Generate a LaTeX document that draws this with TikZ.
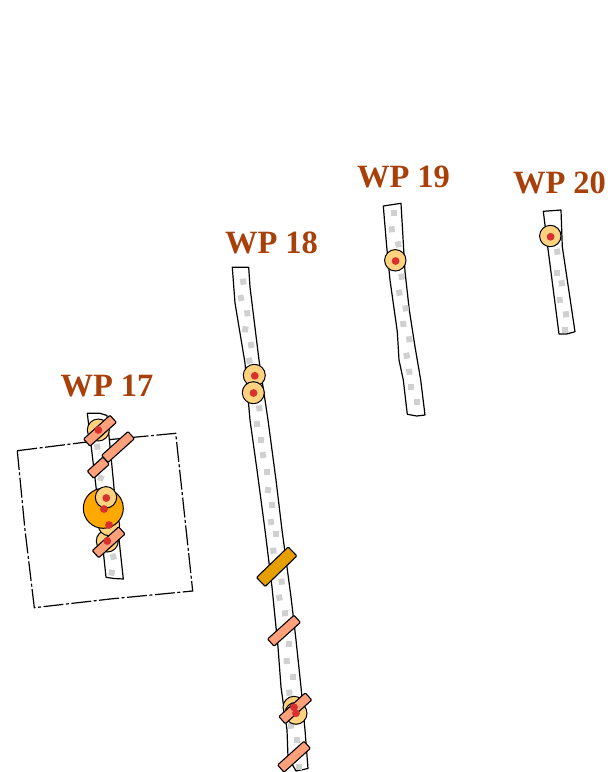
\documentclass[tikz,border=0pt]{standalone}
\usepackage{fontspec}
\setmainfont{Liberation Serif}
\definecolor{wplabel}{HTML}{A8400A}
\definecolor{findlight}{HTML}{FFD27F}
\definecolor{findbig}{HTML}{FFA800}
\definecolor{dotred}{HTML}{D7302F}
\definecolor{barsalmon}{HTML}{FFA07A}
\definecolor{bardark}{HTML}{E69F00}
\definecolor{sq}{HTML}{D0D0D0}
\tikzset{
  wp/.style={font=\bfseries\fontsize{32.5}{34}\selectfont,text=wplabel,inner sep=0pt},
  trench/.style={draw=black,line width=1.2pt,fill=white,line join=round},
  plot/.style={draw=black,line width=1.2pt,dash pattern=on 20pt off 2.5pt on 3pt off 2.5pt},
  lightc/.style={draw=black,line width=1pt,fill=findlight},
  bigc/.style={draw=black,line width=1pt,fill=findbig},
  reddot/.style={fill=dotred},
  grey/.style={fill=sq,draw=none,minimum size=6pt,inner sep=0pt,rectangle},
  salmonbar/.style={draw=black,line width=1.1pt,fill=barsalmon,rectangle,rounded corners=1pt,minimum width=35.5pt,minimum height=9.6pt,inner sep=0pt,rotate=42},
  darkbar/.style={draw=black,line width=1.1pt,fill=bardark,rectangle,rounded corners=1pt,minimum width=44pt,minimum height=12.5pt,inner sep=0pt,rotate=44}
}
\newcommand{\greys}[1]{\foreach \px/\py/\pr in {#1}{\node[grey,rotate=\pr] at (\px,\py) {};}}
\newcommand{\redd}[2]{\fill[reddot] (#1,#2) circle[radius=3.9];}
\begin{document}
\begin{tikzpicture}[x=1pt,y=-1pt]
\useasboundingbox (0,0) rectangle (611,772);
% plot outline
\draw[plot] (17.3,450.7) -- (95,441) -- (175.7,433.3) -- (184,510) -- (192.7,591) -- (110,599) -- (34.3,607.7) -- (25,530) -- cycle;
% trenches
\draw[trench] (87.3,413.3) -- (100,413.3) -- (107,415.5) -- (113,477) -- (118,530) -- (123.3,579) -- (114,578.5) -- (106,577.3) -- (100,520) -- (94,470) -- cycle;
\draw[trench] (232.3,267.3) -- (248.7,267.3) -- (250,287) -- (259,360) -- (268,420) -- (276,480) -- (282,530) -- (291,597) -- (296,640) -- (301,687) -- (305,730) -- (308,768.5) -- (296,771) -- (288,757) -- (287,730) -- (281,687) -- (278,647) -- (272,587) -- (265,530) -- (257,470) -- (250,420) -- (245,363) -- (235,303) -- cycle;
\draw[trench] (383.3,206) -- (401,203.3) -- (405,271.7) -- (409.3,310) -- (415,346.7) -- (420.7,380) -- (425,415) -- (416.7,416) -- (407.3,414.3) -- (403.3,380) -- (399,360) -- (397.3,331.7) -- (390,280) -- (386.7,246.7) -- cycle;
\draw[trench] (543.3,211.3) -- (561,210) -- (562.3,246.7) -- (575,331.7) -- (566.7,334) -- (559,334) -- (547.7,246.7) -- cycle;
% test squares
\greys{97.3/446.7/5,100.7/478/-20,113.3/556.7/15,111.7/572.7/-10}
\greys{243.3/281.7/8,241/298/15,247.3/313.3/3,245.3/329.3/-8,251/345/12,249.3/360.7/15,259.3/408.3/5,257/424/8,261/440/-5,263/455/10,267/472/5,268/490/-10,272/505/5,271/522/8,276/534.3/0,273.3/550.7/5,281.7/581.7/8,279.3/597.7/12,285/613.3/5,289/644.3/0,286.7/661/3,292.7/676.7/0,289.3/692.7/5,291/725.7/5,297.3/740/0,299/767/0}
\greys{394/213.3/0,391.7/229.3/5,398.3/244.3/12,401.7/276.7/8,399.3/292.7/10,405.7/308.3/10,403.3/324/5,409.3/339.3/8,406.7/355.7/12,409.3/371.7/5,410.7/387.3/0,417.3/402.3/0}
\greys{557.3/251.7/8,556.7/273.3/0,561.7/283.3/8,559.7/300/5,566/314.3/8,565/330/5}
% WP 17 finds
\draw[lightc] (98.3,430) circle[radius=11];
\draw[lightc] (107.3,541) circle[radius=11];
\draw[lightc] (109,525) circle[radius=10.7];
\draw[bigc] (103.3,508.3) circle[radius=20];
\draw[lightc] (106,497.3) circle[radius=10.7];
\node[salmonbar] (b1) at (100,430.7) {};
\node[salmonbar] (b2) at (118,447) {};
\node[salmonbar,minimum width=21pt] (b3) at (98.3,467.7) {};
\node[salmonbar] (b4) at (108.7,542.3) {};
\redd{98.3}{430}\redd{106.3}{498}\redd{104}{509}\redd{109}{525}\redd{107.3}{541}
% WP 18 finds
\draw[lightc] (254.3,375.3) circle[radius=11];
\draw[lightc] (253.3,392.7) circle[radius=11];
\redd{254.8}{375.8}\redd{253.5}{393}
\draw[lightc] (294,707.3) circle[radius=11];
\draw[lightc] (296,713.3) circle[radius=11];
\node[darkbar] (b5) at (276.7,566.7) {};
\node[salmonbar] (b6) at (284,630.7) {};
\node[salmonbar] (b7) at (295.3,708.3) {};
\node[salmonbar] (b8) at (294,756.7) {};
\redd{294}{707.3}\redd{296}{713.3}
% WP 19 and WP 20 finds
\draw[lightc] (395.3,260.3) circle[radius=10.7];
\redd{395.6}{261}
\draw[lightc] (550.3,236) circle[radius=10.7];
\redd{550.6}{236.8}
% labels
\node[wp] (w17) at (107,386.5) {WP 17};
\node[wp] (w18) at (271.5,243) {WP 18};
\node[wp] (w19) at (403.5,177) {WP 19};
\node[wp] (w20) at (559.5,183) {WP 20};
\end{tikzpicture}
\end{document}
